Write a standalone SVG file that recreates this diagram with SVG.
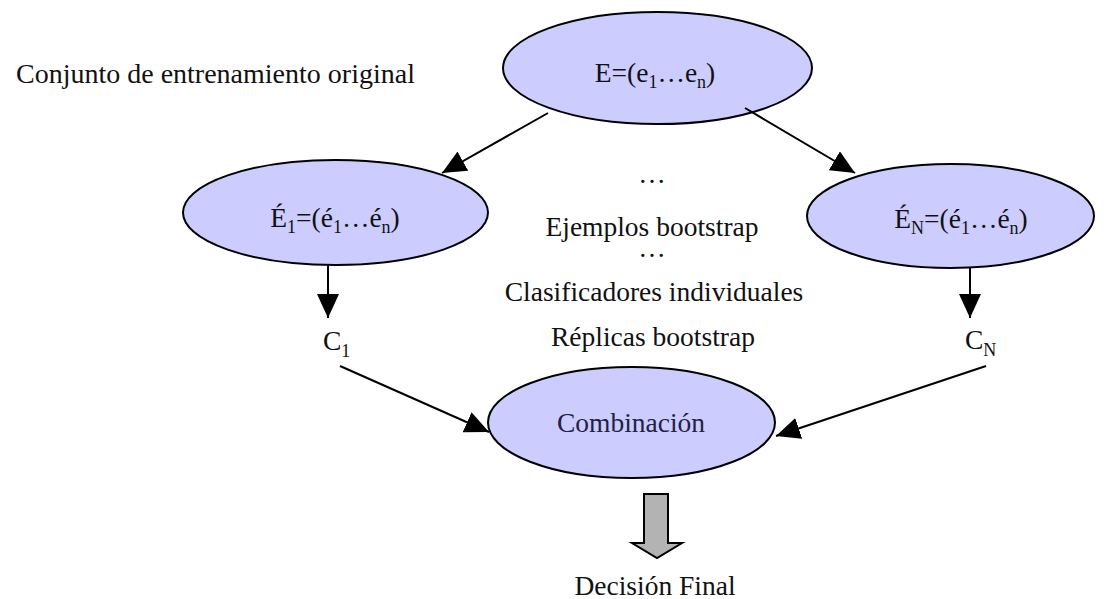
<svg xmlns="http://www.w3.org/2000/svg" width="1107" height="599" viewBox="0 0 1107 599">
<style>
  text { font-family: "Liberation Serif", "Times New Roman", serif; font-size: 27.5px; fill: #111; }
  .mid { text-anchor: middle; }
  .sub { font-size: 18px; }
  .node ellipse { fill: #ccccff; stroke: #000; stroke-width: 2; }
  .conn line { stroke: #000; stroke-width: 2; }
</style>
<defs>
  <marker id="ah" markerUnits="userSpaceOnUse" markerWidth="26" markerHeight="22" refX="24" refY="11" orient="auto">
    <path d="M0,0 L24,11 L0,22 Z" fill="#000"/>
  </marker>
</defs>

<text id="lbl-conjunto" x="16" y="83" style="font-size:28px">Conjunto de entrenamiento original</text>

<g id="node-E" class="node">
  <ellipse cx="657.5" cy="68" rx="154.5" ry="56"/>
  <text class="mid" x="655" y="82">E=(e<tspan class="sub" dy="6">1</tspan><tspan dy="-6">…e</tspan><tspan class="sub" dy="6">n</tspan><tspan dy="-6">)</tspan></text>
</g>

<g id="node-E1" class="node">
  <ellipse cx="335.5" cy="212.5" rx="152.5" ry="52.5"/>
  <text class="mid" x="335" y="227">É<tspan class="sub" dy="6">1</tspan><tspan dy="-6">=(é</tspan><tspan class="sub" dy="6">1</tspan><tspan dy="-6">…é</tspan><tspan class="sub" dy="6">n</tspan><tspan dy="-6">)</tspan></text>
</g>

<g id="node-EN" class="node">
  <ellipse cx="950.5" cy="216" rx="143.5" ry="52"/>
  <text class="mid" x="961" y="228">É<tspan class="sub" dy="6">N</tspan><tspan dy="-6">=(é</tspan><tspan class="sub" dy="6">1</tspan><tspan dy="-6">…é</tspan><tspan class="sub" dy="6">n</tspan><tspan dy="-6">)</tspan></text>
</g>

<g id="node-comb" class="node">
  <ellipse cx="631.5" cy="422.5" rx="143.5" ry="55.5"/>
  <text class="mid" x="631" y="432" style="fill:#222244">Combinación</text>
</g>

<g id="node-C1">
  <text x="323" y="350">C<tspan class="sub" dy="7">1</tspan></text>
</g>
<g id="node-CN">
  <text x="965" y="349">C<tspan class="sub" dy="7">N</tspan></text>
</g>

<g id="labels-middle">
  <text class="mid" x="652" y="183">…</text>
  <text class="mid" x="652" y="236">Ejemplos bootstrap</text>
  <text class="mid" x="652" y="257">…</text>
  <text class="mid" x="654" y="301">Clasificadores individuales</text>
  <text class="mid" x="653" y="346">Réplicas bootstrap</text>
</g>

<g id="node-decision">
  <path d="M644,494 L668,494 L668,543 L682,543 L657,558 L632,543 L644,543 Z" fill="#b3b3b3" stroke="#000" stroke-width="2" stroke-linejoin="miter"/>
  <text class="mid" x="655" y="595">Decisión Final</text>
</g>

<g id="connectors" class="conn">
  <line x1="548" y1="113" x2="442" y2="173" marker-end="url(#ah)"/>
  <line x1="745" y1="108" x2="855" y2="173" marker-end="url(#ah)"/>
  <line x1="328" y1="265" x2="328" y2="318" marker-end="url(#ah)"/>
  <line x1="970" y1="268" x2="970" y2="318" marker-end="url(#ah)"/>
  <line x1="340" y1="366" x2="489" y2="432" marker-end="url(#ah)"/>
  <line x1="986" y1="366" x2="776" y2="436" marker-end="url(#ah)"/>
</g>
</svg>
